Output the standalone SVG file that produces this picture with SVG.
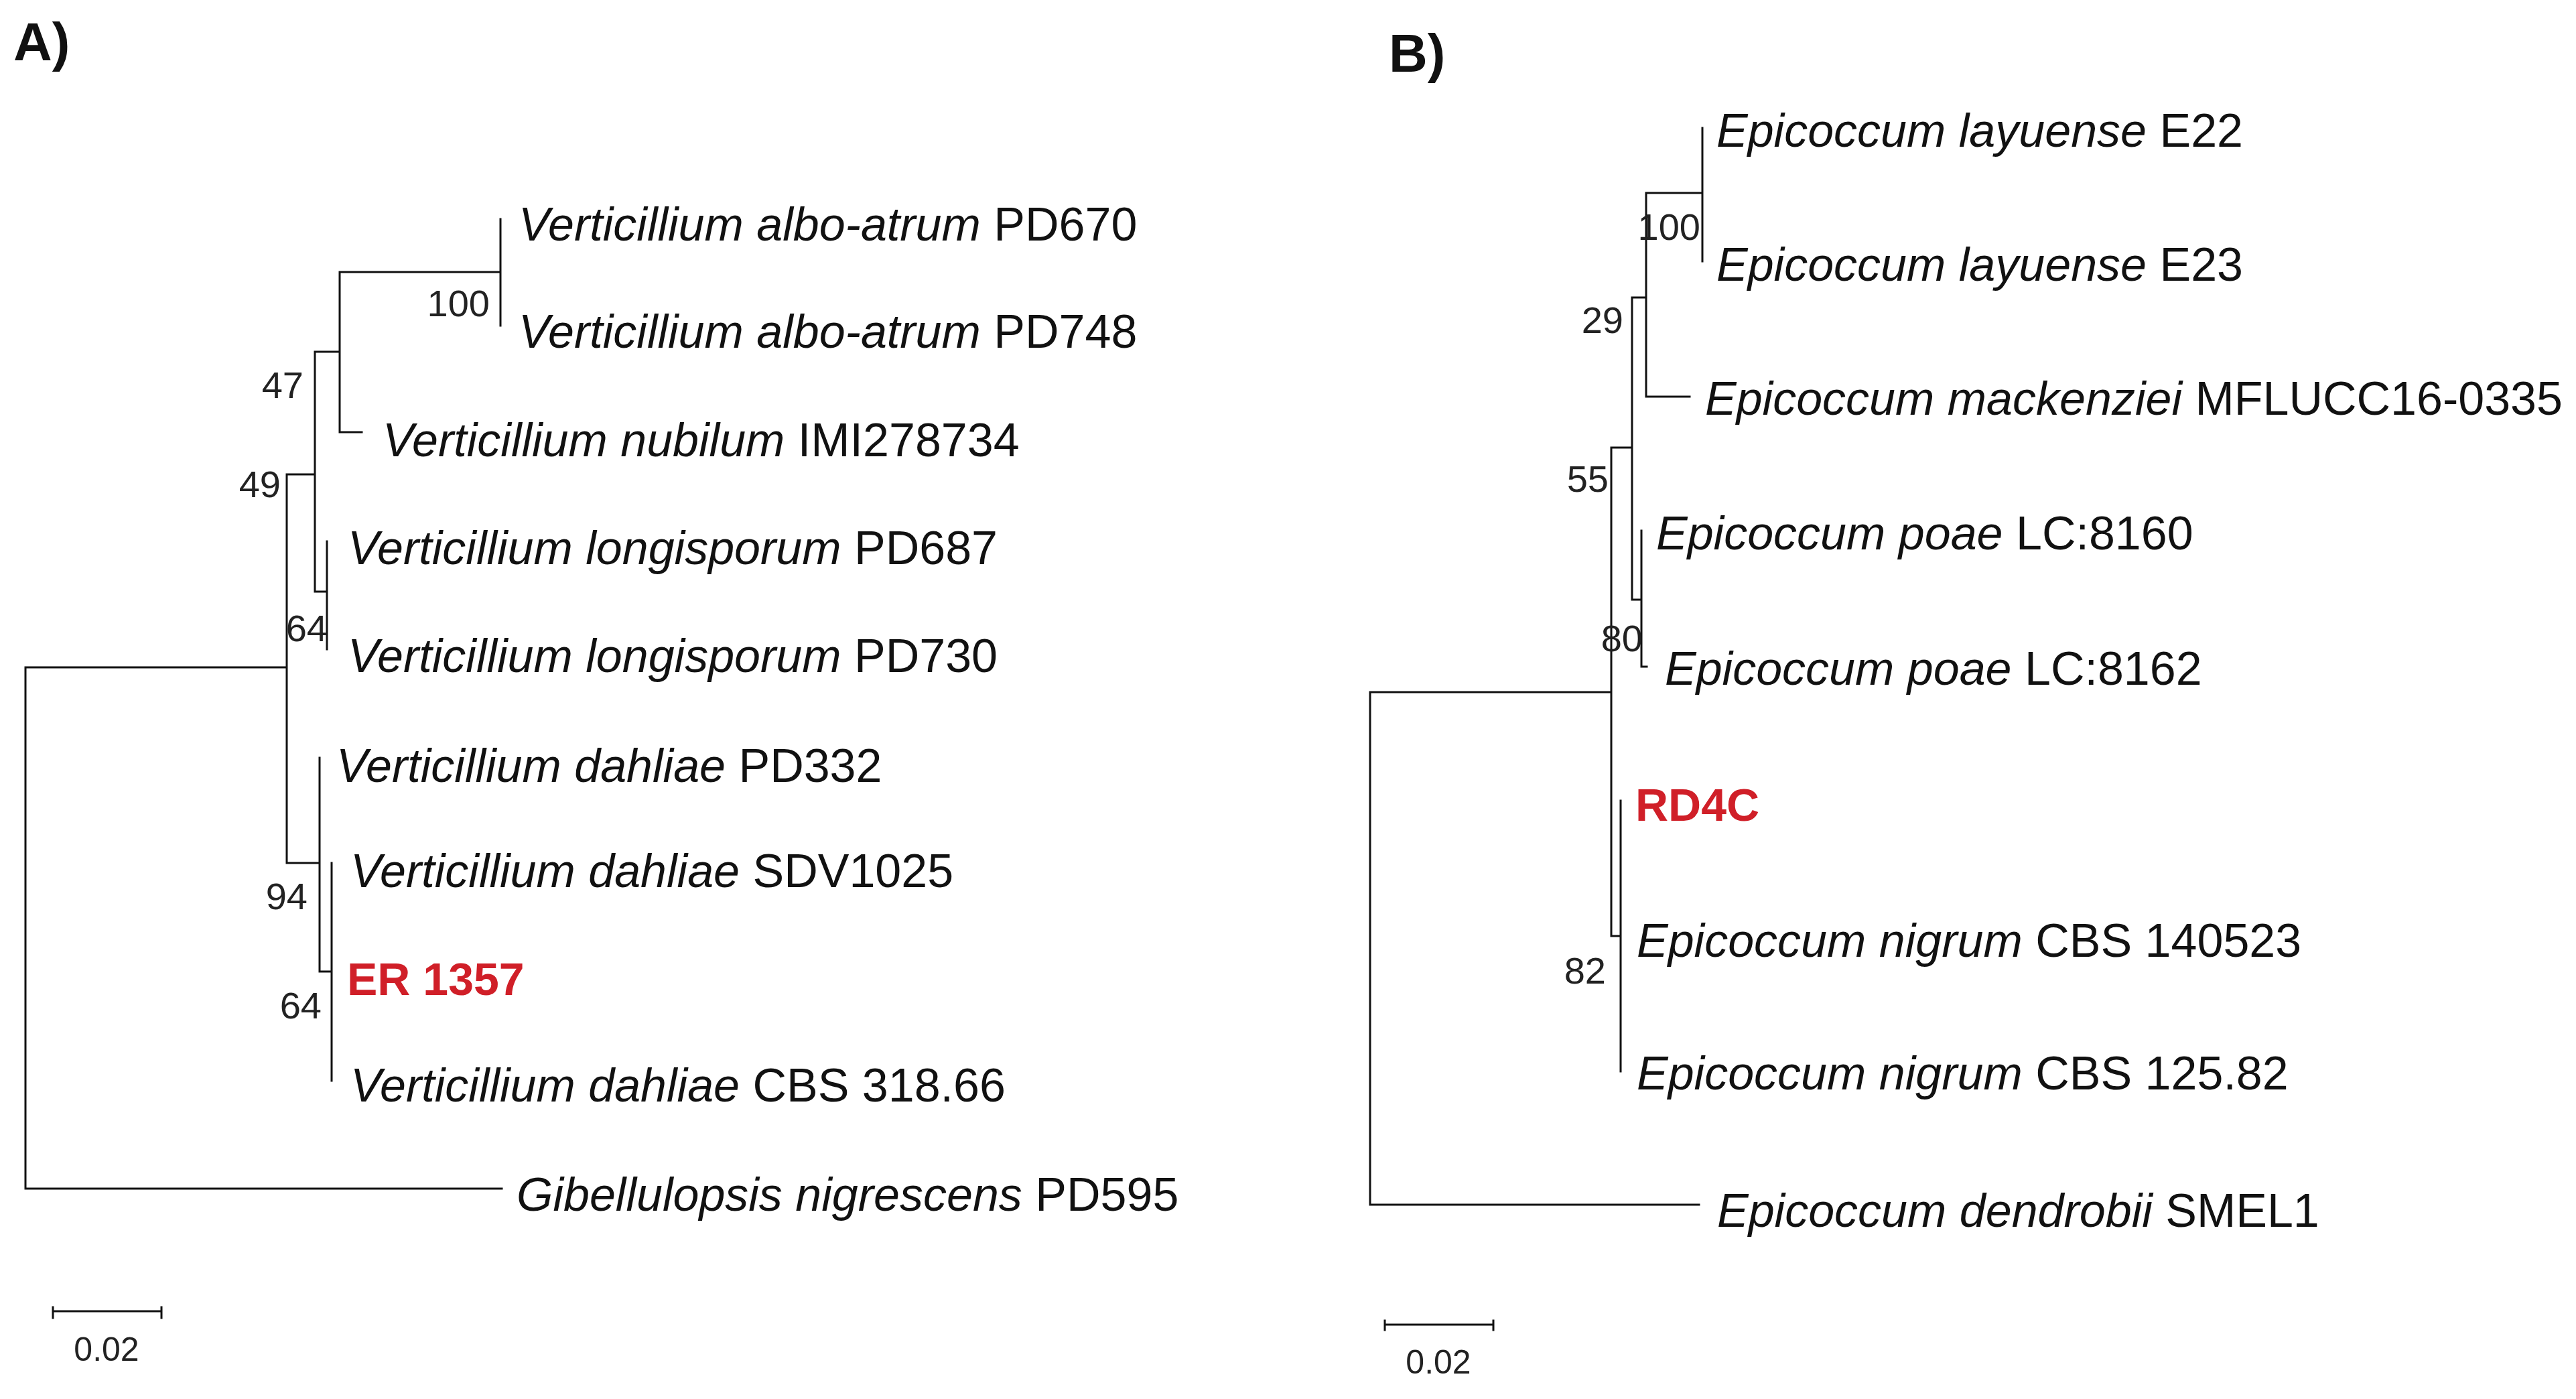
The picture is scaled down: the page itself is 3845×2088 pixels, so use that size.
<svg xmlns="http://www.w3.org/2000/svg" width="3845" height="2088" viewBox="0 0 3845 2088">
<style>
.br{fill:none;stroke:#111;stroke-width:3;stroke-linecap:square}
.tx{font-family:"Liberation Sans",Arial,sans-serif;font-size:70px;fill:#111}
.sp{font-style:italic}
.hl{font-family:"Liberation Sans",Arial,sans-serif;font-size:68px;font-weight:bold;fill:#d01f28}
.bs{font-family:"Liberation Sans",Arial,sans-serif;font-size:56px;fill:#222;text-anchor:end}
.sc{font-family:"Liberation Sans",Arial,sans-serif;font-size:50px;fill:#222;text-anchor:middle}
.pl{font-family:"Liberation Sans",Arial,sans-serif;font-size:80px;font-weight:bold;fill:#111}
</style>
<rect width="3845" height="2088" fill="#fff"/>
<text class="pl" x="20" y="90">A)</text>
<text class="pl" x="2073" y="107">B)</text>
<g id="connectors">
<path class="br" d="M38,996 H428 M38,996 V1774 H749 M428,708 V1288 M428,708 H470 M470,525 V883 M470,525 H507 M507,406 V645 M507,406 H747 M747,327 V486 M507,645 H540 M470,883 H488 M488,808 V969 M428,1288 H477 M477,1131 V1450 M477,1450 H495 M495,1288 V1613"/>
<path class="br" d="M2045,1033 H2405 M2045,1033 V1798 H2536 M2405,668 V1397 M2405,668 H2436 M2436,444 V895 M2436,444 H2457 M2457,288 V592 M2457,288 H2541 M2541,191 V390 M2457,592 H2522 M2436,895 H2450 M2450,792 V995 H2458 M2405,1397 H2419 M2419,1195 V1599"/>
<path class="br" d="M79,1957 H241 M79,1951 V1967 M241,1951 V1967"/>
<path class="br" d="M2067,1977 H2229 M2067,1971 V1985 M2229,1971 V1985"/>
</g>
<g id="bootstrap">
<text class="bs" x="731" y="472">100</text>
<text class="bs" x="453" y="594">47</text>
<text class="bs" x="419" y="742">49</text>
<text class="bs" x="489" y="957">64</text>
<text class="bs" x="459" y="1357">94</text>
<text class="bs" x="480" y="1520">64</text>
<text class="bs" x="2538" y="358">100</text>
<text class="bs" x="2423" y="497">29</text>
<text class="bs" x="2401" y="734">55</text>
<text class="bs" x="2452" y="972">80</text>
<text class="bs" x="2397" y="1468">82</text>
</g>
<g id="scale">
<text class="sc" x="159" y="2031">0.02</text>
<text class="sc" x="2147" y="2050">0.02</text>
</g>
<g id="n-a1"><text class="tx" x="774" y="359"><tspan class="sp">Verticillium albo-atrum</tspan> PD670</text></g>
<g id="n-a2"><text class="tx" x="774" y="519"><tspan class="sp">Verticillium albo-atrum</tspan> PD748</text></g>
<g id="n-a3"><text class="tx" x="571" y="681"><tspan class="sp">Verticillium nubilum</tspan> IMI278734</text></g>
<g id="n-a4"><text class="tx" x="519" y="842"><tspan class="sp">Verticillium longisporum</tspan> PD687</text></g>
<g id="n-a5"><text class="tx" x="519" y="1003"><tspan class="sp">Verticillium longisporum</tspan> PD730</text></g>
<g id="n-a6"><text class="tx" x="502" y="1167"><tspan class="sp">Verticillium dahliae</tspan> PD332</text></g>
<g id="n-a7"><text class="tx" x="523" y="1324"><tspan class="sp">Verticillium dahliae</tspan> SDV1025</text></g>
<g id="n-a8"><text class="hl" x="518" y="1485">ER 1357</text></g>
<g id="n-a9"><text class="tx" x="523" y="1644"><tspan class="sp">Verticillium dahliae</tspan> CBS 318.66</text></g>
<g id="n-a10"><text class="tx" x="771" y="1807"><tspan class="sp">Gibellulopsis nigrescens</tspan> PD595</text></g>
<g id="n-b1"><text class="tx" x="2562" y="219"><tspan class="sp">Epicoccum layuense</tspan> E22</text></g>
<g id="n-b2"><text class="tx" x="2562" y="419"><tspan class="sp">Epicoccum layuense</tspan> E23</text></g>
<g id="n-b3"><text class="tx" x="2545" y="619"><tspan class="sp">Epicoccum mackenziei</tspan> MFLUCC16-0335</text></g>
<g id="n-b4"><text class="tx" x="2472" y="820"><tspan class="sp">Epicoccum poae</tspan> LC:8160</text></g>
<g id="n-b5"><text class="tx" x="2485" y="1022"><tspan class="sp">Epicoccum poae</tspan> LC:8162</text></g>
<g id="n-b6"><text class="hl" x="2441" y="1225">RD4C</text></g>
<g id="n-b7"><text class="tx" x="2443" y="1428"><tspan class="sp">Epicoccum nigrum</tspan> CBS 140523</text></g>
<g id="n-b8"><text class="tx" x="2443" y="1626"><tspan class="sp">Epicoccum nigrum</tspan> CBS 125.82</text></g>
<g id="n-b9"><text class="tx" x="2563" y="1831"><tspan class="sp">Epicoccum dendrobii</tspan> SMEL1</text></g>
</svg>
